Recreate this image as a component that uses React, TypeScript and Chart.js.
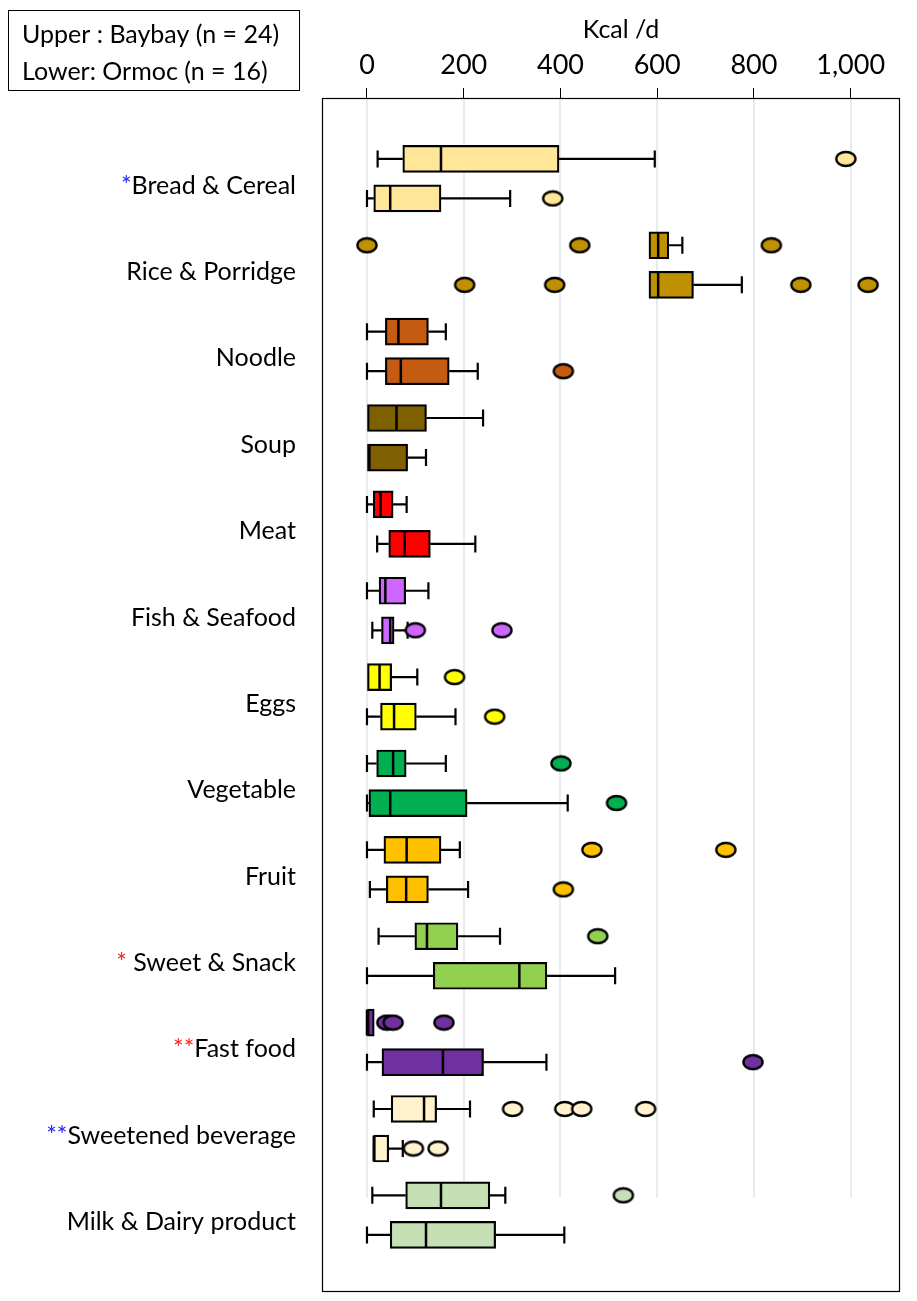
import { useEffect, useRef } from "react";
import { Chart, registerables } from "chart.js";

Chart.register(...registerables);

// Food groups (one pair of boxes each: Baybay above, Ormoc below)
const categories = [
  "Bread & Cereal",
  "Rice & Porridge",
  "Noodle",
  "Soup",
  "Meat",
  "Fish & Seafood",
  "Eggs",
  "Vegetable",
  "Fruit",
  "Sweet & Snack",
  "Fast food",
  "Sweetened beverage",
  "Milk & Dairy product",
];

// Significance marks shown before the group names
const significanceMarks = ["*", "", "", "", "", "", "", "", "", "* ", "**", "**", ""];
const significanceColors = ["#1F1FFF", "", "", "", "", "", "", "", "", "#FF2020", "#FF2020", "#1F1FFF", ""];

// Baybay (n = 24): [min, Q1, median, Q3, max] in kcal/d
const baybayStats = [
  [22, 74, 153, 397, 595],
  [583, 583, 602, 624, 652],
  [0, 38, 65, 127, 163],
  [0, 0, 61, 123, 240],
  [0, 13, 28, 54, 82],
  [0, 25, 38, 80, 127],
  [0, 0, 26, 51, 104],
  [0, 20, 54, 81, 163],
  [0, 35, 82, 153, 192],
  [24, 99, 124, 188, 275],
  [0, 0, 0, 15, 15],
  [14, 50, 118, 144, 213],
  [11, 80, 153, 254, 286],
];

// Ormoc (n = 16): [min, Q1, median, Q3, max] in kcal/d
const ormocStats = [
  [0, 14, 48, 153, 296],
  [583, 583, 602, 675, 775],
  [0, 38, 70, 170, 229],
  [0, 0, 5, 84, 122],
  [21, 45, 78, 131, 224],
  [11, 30, 48, 56, 84],
  [0, 28, 56, 102, 183],
  [0, 4, 48, 207, 415],
  [6, 40, 81, 127, 209],
  [0, 137, 315, 372, 513],
  [0, 31, 157, 241, 371],
  [14, 14, 14, 45, 74],
  [0, 48, 122, 266, 408],
];

// Outlying individuals, kcal/d
const baybayOutliers = [
  [990],
  [0, 440, 836],
  [],
  [],
  [],
  [],
  [181],
  [401],
  [465, 742],
  [477],
  [41, 54, 159],
  [301, 409, 444, 576],
  [530],
];
const ormocOutliers = [
  [384],
  [202, 388, 897, 1036],
  [406],
  [],
  [],
  [100, 279],
  [264],
  [516],
  [406],
  [],
  [798],
  [96, 147],
  [],
];

const xTickValues = [0, 200, 400, 600, 800, 1000];

const groupColors = [
  "#FFE699",
  "#BF9000",
  "#C55A11",
  "#7F6000",
  "#FF0000",
  "#CC66FF",
  "#FFFF00",
  "#00B050",
  "#FFC000",
  "#92D050",
  "#7030A0",
  "#FFF2CC",
  "#C5E0B4",
];

const FONT = "Lato, 'DejaVu Sans', sans-serif";
const ROW_OFFSET = 0.229; // half distance between the two boxes of a group, in group units
const GRID_END = 11.8; // vertical grid lines stop just above the last group

type Row = { pos: number; stats: number[]; color: string };

const rows: Row[] = [];
categories.forEach((_, i) => {
  rows.push({ pos: i - ROW_OFFSET, stats: baybayStats[i], color: groupColors[i] });
  rows.push({ pos: i + ROW_OFFSET, stats: ormocStats[i], color: groupColors[i] });
});

function ellipseMarker(fill: string): HTMLCanvasElement {
  const c = document.createElement("canvas");
  c.width = 24;
  c.height = 18;
  const g = c.getContext("2d")!;
  g.beginPath();
  g.ellipse(12, 9, 9.6, 7, 0, 0, Math.PI * 2);
  g.fillStyle = fill;
  g.fill();
  g.lineWidth = 2.3;
  g.strokeStyle = "#000";
  g.stroke();
  return c;
}

const boxPartsPlugin = {
  id: "boxParts",
  beforeDatasetsDraw(chart: any) {
    const { ctx, chartArea, scales } = chart;
    const x = scales.x;
    const y = scales.y;
    ctx.save();
    ctx.strokeStyle = "#E3ECEF";
    ctx.lineWidth = 2;
    const yEnd = y.getPixelForValue(GRID_END);
    xTickValues.forEach((v) => {
      const px = Math.round(x.getPixelForValue(v));
      ctx.beginPath();
      ctx.moveTo(px, chartArea.top);
      ctx.lineTo(px, yEnd);
      ctx.stroke();
    });
    ctx.restore();
  },
  beforeDatasetDraw(chart: any, args: any) {
    if (args.meta.type !== "bar") return;
    const { ctx, scales } = chart;
    const x = scales.x;
    const y = scales.y;
    ctx.save();
    ctx.strokeStyle = "#000";
    ctx.lineWidth = 2.2;
    const cap = 8.5;
    rows.forEach((r) => {
      const [mn, q1, , q3, mx] = r.stats;
      const py = y.getPixelForValue(r.pos);
      if (mn < q1) {
        ctx.beginPath();
        ctx.moveTo(x.getPixelForValue(mn), py);
        ctx.lineTo(x.getPixelForValue(q1), py);
        ctx.moveTo(x.getPixelForValue(mn), py - cap);
        ctx.lineTo(x.getPixelForValue(mn), py + cap);
        ctx.stroke();
      }
      if (mx > q3) {
        ctx.beginPath();
        ctx.moveTo(x.getPixelForValue(q3), py);
        ctx.lineTo(x.getPixelForValue(mx), py);
        ctx.moveTo(x.getPixelForValue(mx), py - cap);
        ctx.lineTo(x.getPixelForValue(mx), py + cap);
        ctx.stroke();
      }
    });
    ctx.restore();
  },
  afterDatasetDraw(chart: any, args: any) {
    if (args.meta.type !== "bar") return;
    const { ctx, scales } = chart;
    const x = scales.x;
    const y = scales.y;
    ctx.save();
    ctx.strokeStyle = "#000";
    ctx.lineWidth = 2.5;
    rows.forEach((r) => {
      const med = r.stats[2];
      const py = y.getPixelForValue(r.pos);
      const px = x.getPixelForValue(med);
      ctx.beginPath();
      ctx.moveTo(px, py - 13);
      ctx.lineTo(px, py + 13);
      ctx.stroke();
    });
    ctx.restore();
  },
  afterDraw(chart: any) {
    const { ctx, chartArea, scales } = chart;
    const y = scales.y;
    ctx.save();

    // plot frame
    ctx.strokeStyle = "#000";
    ctx.lineWidth = 1.2;
    ctx.strokeRect(
      chartArea.left + 0.5,
      chartArea.top + 0.5,
      chartArea.right - chartArea.left - 1,
      chartArea.bottom - chartArea.top - 1
    );

    // axis title
    ctx.fillStyle = "#000";
    ctx.font = `25px ${FONT}`;
    ctx.textAlign = "center";
    ctx.textBaseline = "middle";
    ctx.fillText("Kcal /d", 621, 30);

    // group names with significance marks
    ctx.font = `25px ${FONT}`;
    ctx.textAlign = "right";
    const labelRight = 296;
    categories.forEach((name, i) => {
      const py = y.getPixelForValue(i) + 7;
      ctx.fillStyle = "#000";
      ctx.fillText(name, labelRight, py);
      const mark = significanceMarks[i];
      if (mark) {
        const w = ctx.measureText(name).width;
        ctx.fillStyle = significanceColors[i];
        ctx.fillText(mark, labelRight - w, py);
      }
    });

    // site key
    ctx.strokeStyle = "#000";
    ctx.lineWidth = 1;
    ctx.strokeRect(8.5, 10.5, 291, 80);
    ctx.fillStyle = "#000";
    ctx.font = `25px ${FONT}`;
    ctx.textAlign = "left";
    ctx.fillText("Upper : Baybay (n = 24)", 22, 35);
    ctx.fillText("Lower: Ormoc (n = 16)", 22, 72);

    ctx.restore();
  },
};

export default function App() {
  const canvasRef = useRef<HTMLCanvasElement | null>(null);

  useEffect(() => {
    if (!canvasRef.current) return;

    const boxData = rows.map((r) => ({ x: [r.stats[1], r.stats[3]], y: r.pos }));

    const outlierSets = categories.map((_, i) => ({
      type: "scatter" as const,
      data: [
        ...baybayOutliers[i].map((v) => ({ x: v, y: i - ROW_OFFSET })),
        ...ormocOutliers[i].map((v) => ({ x: v, y: i + ROW_OFFSET })),
      ],
      pointStyle: ellipseMarker(groupColors[i]),
      pointRadius: 8,
      order: 0,
    }));

    const chart = new Chart(canvasRef.current, {
      type: "bar",
      data: {
        datasets: [
          {
            type: "bar",
            data: boxData as any,
            backgroundColor: rows.map((r) => r.color),
            borderColor: "#000",
            borderWidth: 2.2,
            borderSkipped: false,
            barThickness: 27,
            order: 1,
          } as any,
          ...(outlierSets as any[]),
        ],
      },
      options: {
        indexAxis: "y",
        responsive: false,
        animation: false,
        devicePixelRatio: 1,
        events: [],
        layout: { padding: { left: 322, right: 17, top: 0, bottom: 9 } },
        plugins: {
          legend: { display: false },
          tooltip: { enabled: false },
        },
        scales: {
          x: {
            type: "linear",
            position: "top",
            min: -93,
            max: 1102,
            afterBuildTicks: (s: any) => {
              s.ticks = xTickValues.map((v) => ({ value: v }));
            },
            afterFit: (s: any) => {
              s.height = 98;
            },
            ticks: {
              callback: (v: any) => Number(v).toLocaleString("en-US"),
              font: { family: FONT, size: 27 },
              color: "#000",
              padding: 7,
              maxRotation: 0,
              autoSkip: false,
            },
            grid: {
              display: true,
              drawOnChartArea: false,
              drawTicks: true,
              tickLength: 10,
              tickColor: "#000",
              tickWidth: 1,
            },
            border: { display: false },
          },
          y: {
            type: "linear",
            display: false,
            reverse: true,
            min: -0.934,
            max: 12.89,
            offset: false,
          },
        },
      } as any,
      plugins: [boxPartsPlugin],
    });

    return () => chart.destroy();
  }, []);

  return (
    <div style={{ position: "absolute", left: 0, top: 0, width: 917, height: 1301, background: "#fff" }}>
      <canvas ref={canvasRef} width={917} height={1301} style={{ display: "block" }} />
    </div>
  );
}
